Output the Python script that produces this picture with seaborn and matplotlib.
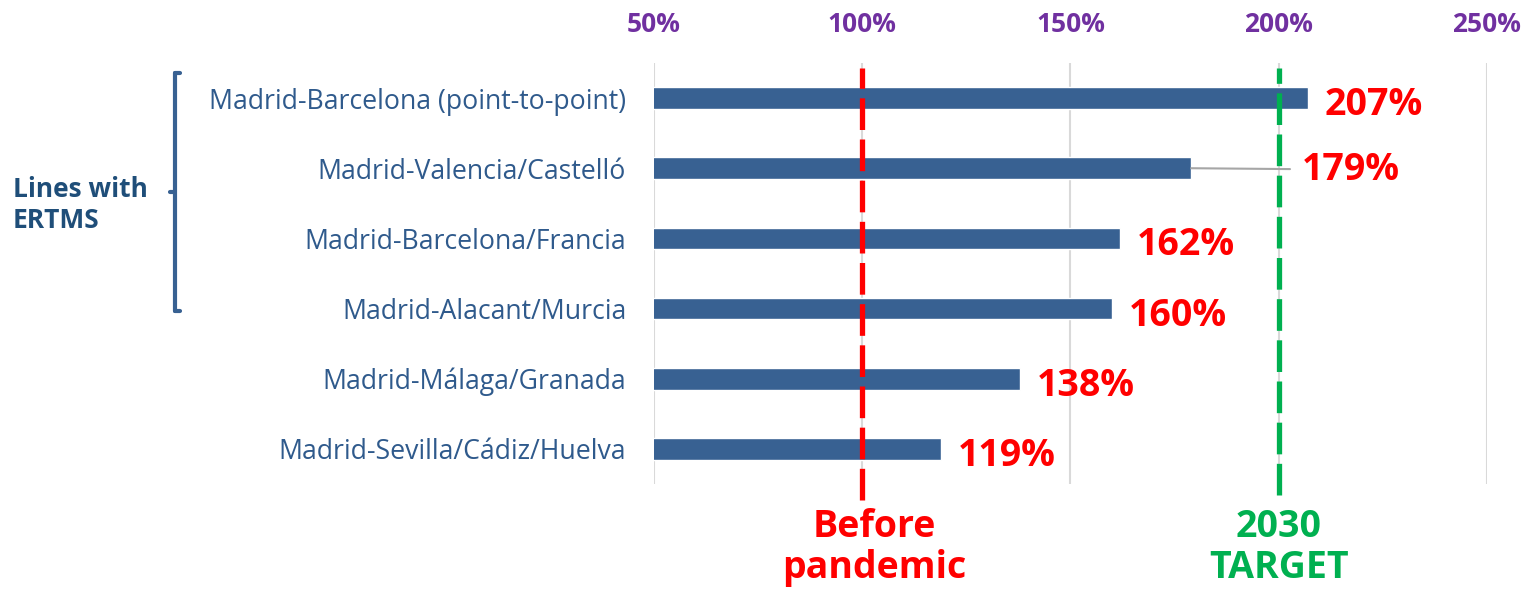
import matplotlib
matplotlib.use("Agg")
import matplotlib.pyplot as plt
import seaborn as sns
import pandas as pd
from matplotlib.lines import Line2D

# --- data ---
routes = [
    "Madrid-Barcelona (point-to-point)",
    "Madrid-Valencia/Castelló",
    "Madrid-Barcelona/Francia",
    "Madrid-Alacant/Murcia",
    "Madrid-Málaga/Granada",
    "Madrid-Sevilla/Cádiz/Huelva",
]
recovery = [207, 179, 162, 160, 138, 119]
ticks = [50, 100, 150, 200, 250]
before_pandemic = 100
target_2030 = 200

df = pd.DataFrame({"route": routes, "recovery": recovery})

sns.set_theme(style="white")
plt.rcParams["font.family"] = ["Open Sans", "DejaVu Sans"]

bar_color = "#386192"
label_color = "#2F5A8C"
red = "#FF0000"
green = "#00B050"
purple = "#7030A0"

fig = plt.figure(figsize=(15.29, 5.89), dpi=100)
ax = fig.add_axes([0.4277, 0.1783, 0.5448, 0.7148])

sns.barplot(data=df, x="recovery", y="route", orient="h", color=bar_color,
            saturation=1, width=0.31, ax=ax, zorder=2)

ax.set_xlim(50, 250)
ax.set_ylim(5.5, -0.5)
ax.set_xticks(ticks)
ax.set_xticklabels([f"{t}%" for t in ticks], color=purple, fontsize=19, fontweight="bold")
ax.xaxis.tick_top()
ax.tick_params(axis="x", length=0, pad=18)
ax.tick_params(axis="y", length=0, pad=20, labelsize=19.2, labelcolor=label_color)
ax.set_xlabel("")
ax.set_ylabel("")
for t in ticks:
    ax.axvline(t, color="#D9D9D9", lw=1.5, zorder=0)
for s in ax.spines.values():
    s.set_visible(False)

# reference lines
ax.axvline(before_pandemic, ymin=-0.038, ymax=0.988, color=red, lw=3.8,
           dashes=(6, 1.8), clip_on=False, zorder=3)
ax.axvline(target_2030, ymin=-0.026, ymax=0.988, color=green, lw=3.8,
           dashes=(6, 1.8), clip_on=False, zorder=3)

ax.annotate("Before\npandemic", xy=(before_pandemic + 3, 5.84), ha="center", va="top",
            color=red, fontsize=27, fontweight="bold", linespacing=1.1,
            annotation_clip=False)
ax.annotate("2030\nTARGET", xy=(target_2030, 5.84), ha="center", va="top",
            color=green, fontsize=27, fontweight="bold", linespacing=1.1,
            annotation_clip=False)

# value labels
for i, v in enumerate(recovery):
    if v == 179:
        ax.annotate(f"{v}%", xy=(v, i), xytext=(205.5, i + 0.02), ha="left", va="center",
                    color=red, fontsize=27, fontweight="bold",
                    arrowprops=dict(arrowstyle="-", color="#A6A6A6", lw=1.5,
                                    shrinkA=6, shrinkB=0))
    else:
        ax.annotate(f"{v}%", xy=(v, i), xytext=(12, -5), textcoords="offset points",
                    ha="left", va="center", color=red, fontsize=27, fontweight="bold")

# bracket for ERTMS group
W, H = 1529, 589
bx = 175
y_top, y_bot, y_mid = 73, 311, 192
fig.add_artist(Line2D([bx / W, bx / W], [1 - y_top / H, 1 - y_bot / H],
                      color=bar_color, lw=3, solid_capstyle="round"))
fig.add_artist(Line2D([bx / W, (bx + 5) / W], [1 - y_top / H, 1 - y_top / H],
                      color=bar_color, lw=3, solid_capstyle="round"))
fig.add_artist(Line2D([bx / W, (bx + 5) / W], [1 - y_bot / H, 1 - y_bot / H],
                      color=bar_color, lw=3, solid_capstyle="round"))
fig.add_artist(Line2D([(bx - 5) / W, bx / W], [1 - y_mid / H, 1 - y_mid / H],
                      color=bar_color, lw=3, solid_capstyle="round"))
fig.text(13 / W, 1 - 205 / H, "Lines with\nERTMS", ha="left", va="center",
         color="#1F4E79", fontsize=19, fontweight="bold", linespacing=1.15)

fig.savefig("out.png", dpi=100)
